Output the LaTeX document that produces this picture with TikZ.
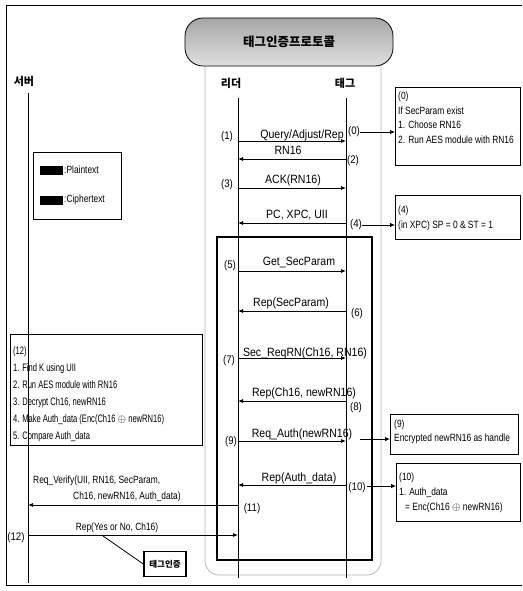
\documentclass[tikz,border=0pt]{standalone}
\usepackage{fontspec}
\setmainfont{Liberation Sans}
\newfontfamily\fmsg[FakeStretch=0.88]{Liberation Sans}
\newfontfamily\fnar[FakeStretch=0.8]{Liberation Sans}
\newfontfamily\fnarr[FakeStretch=0.7]{Liberation Sans}
\newfontfamily\fkr{Noto Sans CJK KR}
\usetikzlibrary{arrows.meta}
\tikzset{
  msg/.style={line width=0.8pt, -{Latex[length=5pt,width=4pt]}},
  ptr/.style={line width=0.8pt, -{Latex[length=5pt,width=4.5pt]}},
  life/.style={line width=0.8pt},
  mlabel/.style={font=\fmsg\fontsize{12}{14}\selectfont, inner sep=0pt, anchor=base},
  slabel/.style={font=\fnar\fontsize{10.5}{12}\selectfont, inner sep=0pt},
  numlbl/.style={font=\fmsg\fontsize{11}{13}\selectfont, inner sep=0pt},
  actor/.style={font=\fkr\bfseries\fontsize{11}{13}\selectfont, inner sep=0pt},
  notebox/.style={draw, line width=0.8pt, anchor=north west, inner sep=0pt},
  notetext/.style={anchor=north west, align=left, inner sep=0pt},
  legkey/.style={fill=black, minimum width=23, minimum height=9, inner sep=0pt, anchor=west},
  legtext/.style={font=\fnar\fontsize{10.5}{12}\selectfont, inner sep=0pt, anchor=west},
}
\begin{document}
\begin{tikzpicture}[x=1pt,y=-1pt]
\useasboundingbox (0,0) rectangle (522,591);
% outer frame
\draw[line width=0.9pt] (522,5) -- (6,5) -- (6,585) -- (522,585);
% reader/tag container
\draw[gray!60, line width=0.7pt, rounded corners=14pt] (205,40) rectangle (381,575);
% title banner
\node[draw, line width=0.8pt, rounded corners=18pt, minimum width=208, minimum height=48,
      top color=gray!70, bottom color=gray!25, inner sep=0pt,
      font=\fkr\bfseries\fontsize{12.5}{14}\selectfont] (title) at (289,42) {태그인증프로토콜};
% actors
\node[actor] (server) at (24,81) {서버};
\node[actor] (reader) at (231,83) {리더};
\node[actor] (tag) at (345,83) {태그};
% lifelines
\coordinate (sTop) at (28,93);  \coordinate (sBot) at (28,583);
\coordinate (rTop) at (238,98); \coordinate (rBot) at (238,578);
\coordinate (tTop) at (346,98); \coordinate (tBot) at (346,578);
\draw[life] (sTop) -- (sBot);
\draw[life] (rTop) -- (rBot);
\draw[life] (tTop) -- (tBot);
% secure session box
\draw[line width=2pt] (217,237) rectangle (372,560);
% legend
\node[notebox, minimum width=88, minimum height=67] (legend) at (33,152) {};
\node[legkey] (plainkey) at (40,170) {};
\node[legtext] (plaintxt) at (64,170) {:Plaintext};
\node[legkey] (cipherkey) at (40,200) {};
\node[legtext] (ciphertxt) at (64,200) {:Ciphertext};
% messages reader <-> tag
\coordinate (r1) at (238,141);  \coordinate (t1) at (346,141);
\coordinate (r2) at (238,159);  \coordinate (t2) at (346,159);
\coordinate (r3) at (238,188);  \coordinate (t3) at (346,188);
\coordinate (r4) at (238,223);  \coordinate (t4) at (346,223);
\coordinate (r5) at (238,271);  \coordinate (t5) at (346,271);
\coordinate (r6) at (238,311);  \coordinate (t6) at (346,311);
\coordinate (r7) at (238,358);  \coordinate (t7) at (346,358);
\coordinate (r8) at (238,401);  \coordinate (t8) at (346,401);
\coordinate (r9) at (238,441);  \coordinate (t9) at (346,441);
\coordinate (r10) at (238,485); \coordinate (t10) at (346,485);
\draw[msg] (r1) -- (t1);
\draw[msg] (t2) -- (r2);
\draw[msg] (r3) -- (t3);
\draw[msg] (t4) -- (r4);
\draw[msg] (r5) -- (t5);
\draw[msg] (t6) -- (r6);
\draw[msg] (r7) -- (t7);
\draw[msg] (t8) -- (r8);
\draw[msg] (r9) -- (t9);
\draw[msg] (t10) -- (r10);
\node[mlabel] (m1) at (302,138) {Query/Adjust/Rep};
\node[mlabel] (m2) at (288,154) {RN16};
\node[mlabel] (m3) at (293,183) {ACK(RN16)};
\node[mlabel] (m4) at (297,218) {PC, XPC, UII};
\node[mlabel] (m5) at (299,265) {Get\_SecParam};
\node[mlabel] (m6) at (291,306) {Rep(SecParam)};
\node[mlabel] (m7) at (305,356) {Sec\_ReqRN(Ch16, RN16)};
\node[mlabel] (m8) at (304,396) {Rep(Ch16, newRN16)};
\node[mlabel] (m9) at (302,437) {Req\_Auth(newRN16)};
\node[mlabel] (m10) at (299,481) {Rep(Auth\_data)};
% step numbers
\node[numlbl] (n0) at (354,132) {(0)};
\node[numlbl] (n1) at (227,137) {(1)};
\node[numlbl] (n2) at (353,161) {(2)};
\node[numlbl] (n3) at (227,185) {(3)};
\node[numlbl] (n4) at (356,225) {(4)};
\node[numlbl] (n5) at (230,266) {(5)};
\node[numlbl] (n6) at (357,314) {(6)};
\node[numlbl] (n7) at (229,361) {(7)};
\node[numlbl] (n8) at (356,408) {(8)};
\node[numlbl] (n9) at (231,442) {(9)};
\node[numlbl] (n10) at (357,488) {(10)};
\node[numlbl] (n11) at (252,509) {(11)};
\node[numlbl] (n12) at (16,538) {(12)};
% note boxes (right)
\node[notebox, minimum width=125, minimum height=78] (box0) at (395,87) {};
\node[notetext, font=\fnar\fontsize{10.5}{14.5}\selectfont] (box0t) at (398,92)
  {(0)\\If SecParam exist\\1. Choose RN16\\2. Run AES module with RN16};
\node[notebox, minimum width=125, minimum height=44] (box4) at (395,195) {};
\node[notetext, font=\fnar\fontsize{10.5}{15}\selectfont] (box4t) at (398,206)
  {(4)\\(in XPC) SP = 0 \& ST = 1};
\node[notebox, minimum width=128, minimum height=40] (box9) at (390,414) {};
\node[notetext, font=\fnar\fontsize{10.5}{13.5}\selectfont] (box9t) at (394,420)
  {(9)\\Encrypted newRN16 as handle};
\node[notebox, minimum width=124, minimum height=58] (box10) at (396,463) {};
\node[notetext, font=\fnar\fontsize{10.5}{15}\selectfont] (box10t) at (399,473)
  {(10)\\1. Auth\_data\\\hspace*{6pt}= Enc(Ch16 $\oplus$ newRN16)};
% pointers to notes
\coordinate (p9) at (360,439);
\coordinate (p10) at (367,486);
\draw[ptr] (n0.east) -- (n0.east -| box0.west);
\draw[ptr] (n4.east) -- (n4.east -| box4.west);
\draw[ptr] (p9) -- (p9 -| box9.west);
\draw[ptr] (p10) -- (p10 -| box10.west);
% server note
\node[notebox, minimum width=192, minimum height=111] (box12) at (10,334) {};
\node[notetext, font=\fnarr\fontsize{10.8}{17}\selectfont] (box12t) at (13,346)
  {(12)\\1. Find K using UII\\2. Run AES module with RN16\\3. Decrypt Ch16, newRN16\\4. Make Auth\_data (Enc(Ch16 $\oplus$ newRN16)\\5. Compare Auth\_data};
% server messages
\coordinate (r11) at (238,505); \coordinate (s11) at (28,505);
\coordinate (s12) at (28,535);  \coordinate (r12) at (238,535);
\draw[msg] (r11) -- (s11);
\draw[msg] (s12) -- (r12);
\node[slabel, anchor=base west] (m11a) at (33,483) {Req\_Verify(UII, RN16, SecParam,};
\node[slabel, anchor=base west] (m11b) at (73,499) {Ch16, newRN16, Auth\_data)};
\node[slabel, anchor=base] (m12) at (117,530) {Rep(Yes or No, Ch16)};
% callout
\node[draw, line width=1.4pt, minimum width=42, minimum height=25, inner sep=0pt,
      font=\fkr\bfseries\fontsize{8.5}{10}\selectfont] (auth) at (165,564) {태그인증};
\coordinate (authptr) at (103,536);
\draw[line width=0.8pt] (authptr) -- (auth.west);
\end{tikzpicture}
\end{document}
